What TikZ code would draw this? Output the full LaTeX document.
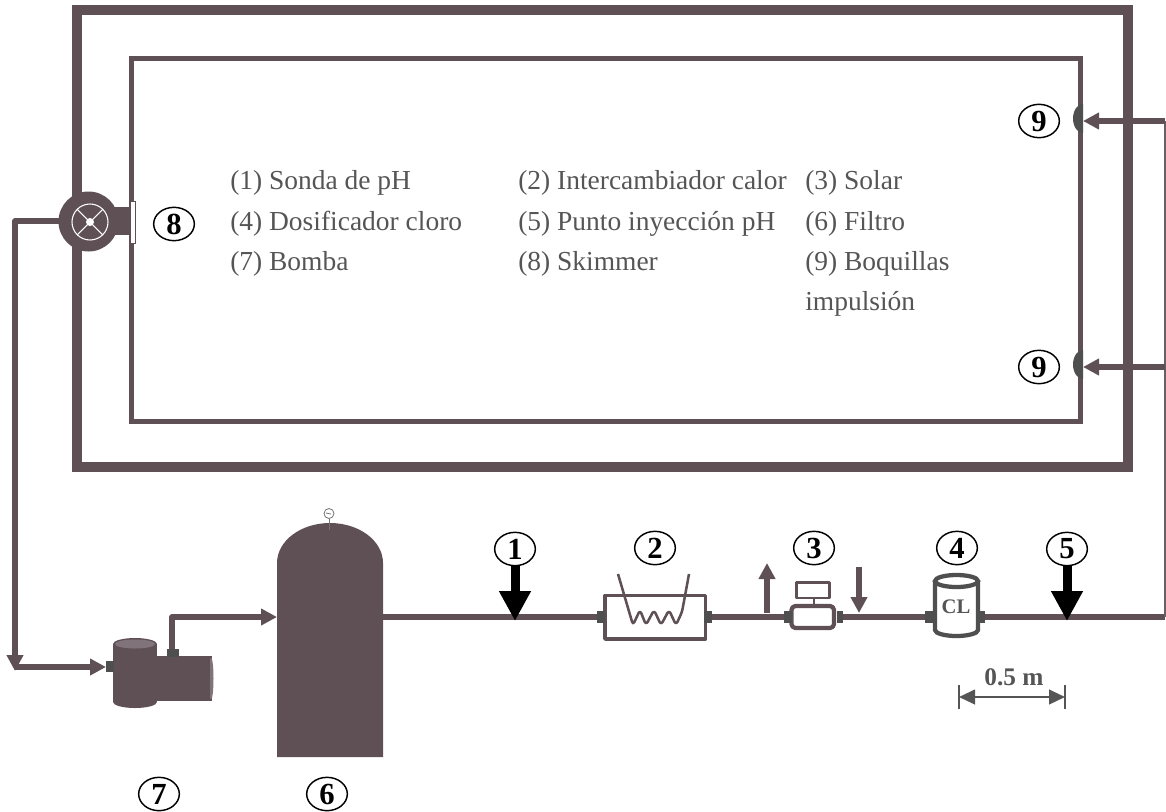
\documentclass[tikz,border=0pt]{standalone}
\usepackage{fontspec}
\setmainfont{Liberation Serif}
\usetikzlibrary{arrows.meta, shapes.geometric}
\definecolor{pipecol}{HTML}{5F5056}
\definecolor{portcol}{HTML}{4F4F4F}
\definecolor{capcol}{HTML}{80737A}
\definecolor{textcol}{HTML}{555555}
\tikzstyle{pipe}=[pipecol, line width=4pt]
\tikzstyle{flow}=[pipecol, line width=4pt, -{Triangle[length=12pt, width=12pt]}]
\tikzstyle{probe}=[black, line width=6.75pt, -{Triangle[length=22.5pt, width=22.5pt]}, shorten <=-0.5pt]
\tikzstyle{marker}=[draw, ellipse, fill=white, line width=1.1pt, minimum width=30.5pt, minimum height=25pt, inner sep=0pt, font=\fontsize{23}{23}\selectfont\bfseries]
\tikzstyle{port}=[fill=portcol, inner sep=0pt, minimum width=6pt, minimum height=8.5pt]
\tikzstyle{legend}=[anchor=west, inner sep=0pt, textcol, font=\fontsize{20.6}{25}\selectfont]
\tikzstyle{device}=[pipecol, line width=2.7pt, line join=round]

\begin{document}
\begin{tikzpicture}[x=0.75pt, y=-0.75pt]
				\useasboundingbox (0,0) rectangle (1166,811);

				% pool
				\draw[pipecol, line width=7.5pt] (77,10) rectangle (1128,467);
				\draw[pipecol, line width=3.75pt] (131,58) rectangle (1080.5,421);

				\coordinate (skim) at (88,221);
				\coordinate (bendA) at (15,221);
				\coordinate (bendB) at (15,667);
				\coordinate (bendC) at (15,671);
				\coordinate (bendD) at (172,617);
				\coordinate (pumpOut) at (172,652);
				\coordinate (filterIn) at (277,617);
				\coordinate (filterOut) at (383,617);
				\coordinate (hxIn) at (601,617);
				\coordinate (hxOut) at (708,617);
				\coordinate (solarIn) at (788,617);
				\coordinate (solarOut) at (840,617);
				\coordinate (clIn) at (929,617);
				\coordinate (clOut) at (982,617);
				\coordinate (tapA) at (515,621);
				\coordinate (tapB) at (1067,621);
				\coordinate (mainEnd) at (1165,617);
				\coordinate (topEnd) at (1165,121);
				\coordinate (lowEnd) at (1165,367);
				\coordinate (topNozzle) at (1083,121);
				\coordinate (lowNozzle) at (1083,367);
				\coordinate (upA) at (767,613);
				\coordinate (upB) at (767,563);
				\coordinate (downA) at (859,567);
				\coordinate (downB) at (859,613);
				\coordinate (dimL) at (959,697);
				\coordinate (dimR) at (1065,697);

				% return from the skimmer to the pump
				\draw[pipe, line join=round] (skim) -- (bendA) -- (15,655);
				\draw[flow] (15,650) -- (bendC);
				\draw[flow] (bendB) -- (106,667);
				\draw[flow, line join=round] (pumpOut) -- (bendD) -- (filterIn);

				% main line
				\draw[pipe] (filterOut) -- (hxIn);
				\draw[pipe] (hxOut) -- (solarIn);
				\draw[pipe] (solarOut) -- (clIn);
				\draw[pipe] (clOut) -- (mainEnd);
				\draw[pipecol!70!gray, line width=1.2pt] (mainEnd) -- (topEnd);
				\draw[flow] (topEnd) -- (topNozzle);
				\draw[flow] (lowEnd) -- (lowNozzle);

				% skimmer and its suction box
				\fill[pipecol] (88.5,221.5) circle [radius=30];
				\fill[pipecol] (100,207) rectangle (129,235);
				\draw[white, line width=0.8pt] (90,222) circle [radius=18];
				\fill[white] (90,222) circle [radius=4];
				\draw[white, line width=0.8pt] (77,209) -- (103,235);
				\draw[white, line width=0.8pt] (103,209) -- (77,235);
				\draw[pipecol, fill=white, line width=0.6pt] (130,201) rectangle (135,243);

				% nozzles
				\fill[portcol] (1083,104) arc [start angle=270, end angle=90, x radius=10, y radius=14.5] -- cycle;
				\fill[portcol] (1083,350) arc [start angle=270, end angle=90, x radius=10, y radius=14.5] -- cycle;

				% pump
				\fill[pipecol] (113,644) rectangle (157,702);
				\fill[pipecol] (135,702) ellipse [x radius=22, y radius=6];
				\fill[pipecol] (135,644) ellipse [x radius=22, y radius=6];
				\fill[capcol] (135,644) ellipse [x radius=20, y radius=4.5];
				\fill[pipecol] (157,656) rectangle (212,701);
				\fill[capcol] (211,678.5) ellipse [x radius=2.5, y radius=21];
				\fill[pipecol] (157,656) rectangle (210,701);
				\node[port] (pumpPortA) at (110,666.5) {};
				\node[port, minimum width=9pt, minimum height=6pt] (pumpPortB) at (173,653) {};

				% filter
				\fill[pipecol] (277,757) -- (277,563) arc [start angle=180, end angle=360, x radius=53, y radius=40] -- (383,757) -- cycle;
				\draw[gray!90!black, line width=0.6pt] (329,530) -- (329,518);
				\draw[gray!90!black, fill=white, line width=0.6pt] (329,513.5) circle [radius=5];
				\draw[gray!90!black, line width=0.6pt] (326,513) -- (331,514);

				% heat exchanger
				\draw[device, fill=white] (605,595.5) rectangle (705.5,639);
				\draw[pipecol, line width=1.9pt, line join=round, rounded corners=2.5pt] (618,574) -- (633,625) -- (640,610) -- (646,625) -- (654,610) -- (661,625) -- (669,610) -- (676,625) -- (682,612) -- (689,574);
				\node[port] (hxPortL) at (601,617) {};
				\node[port] (hxPortR) at (708,617) {};

				% solar unit
				\draw[device, fill=white, line width=3.2pt, rounded corners=3pt] (791.5,606) rectangle (834,628);
				\draw[device, fill=white, line width=2.2pt] (796.5,582.5) rectangle (829.5,598);
				\draw[device, line width=2.2pt] (814,598) -- (814,606);
				\node[port] (solarPortL) at (788,617) {};
				\node[port, minimum width=5pt] (solarPortR) at (840,617) {};
				\draw[flow] (upA) -- (upB);
				\draw[flow] (downA) -- (downB);

				% chlorine dosing
				\draw[portcol, line width=3.2pt, fill=white] (935,581) -- (935,630) arc [start angle=180, end angle=0, x radius=21.5, y radius=6] -- (978,581);
				\draw[portcol, line width=3.2pt, fill=white] (956.5,581) ellipse [x radius=21.5, y radius=6];
				\node[port] (clPortL) at (929,617) {};
				\node[port, minimum width=5pt] (clPortR) at (982,617) {};
				\node[inner sep=0pt, textcol, font=\fontsize{15.5}{15.5}\selectfont\bfseries] (clText) at (956,607) {CL};

				% markers
				\node[marker] (m1) at (515,549) {1};
				\node[marker] (m2) at (655,548) {2};
				\node[marker] (m3) at (814,548) {3};
				\node[marker] (m4) at (957,548) {4};
				\node[marker] (m5) at (1067,549) {5};
				\node[marker] (m6) at (327,794) {6};
				\node[marker] (m7) at (159,794) {7};
				\node[marker] (m8) at (174,224) {8};
				\node[marker] (m9a) at (1039,121) {9};
				\node[marker] (m9b) at (1039,367) {9};
				\draw[probe] (m1) -- (tapA);
				\draw[probe] (m5) -- (tapB);

				% scale
				\draw[textcol, line width=1.2pt] (959,685) -- (959,709);
				\draw[textcol, line width=1.2pt] (1065,685) -- (1065,709);
				\draw[textcol, line width=1.6pt, {Triangle[length=12pt, width=11pt]}-{Triangle[length=12pt, width=11pt]}] (dimL) -- (dimR);
				\node[inner sep=0pt, textcol, font=\fontsize{19}{19}\selectfont\bfseries] (dimText) at (1014,677) {0.5 m};

				% legend
				\node[legend] (l1) at (230,183) {(1) Sonda de pH};
				\node[legend] (l2) at (518,183) {(2) Intercambiador calor};
				\node[legend] (l3) at (805,183) {(3) Solar};
				\node[legend] (l4) at (230,224) {(4) Dosificador cloro};
				\node[legend] (l5) at (518,224) {(5) Punto inyección pH};
				\node[legend] (l6) at (805,224) {(6) Filtro};
				\node[legend] (l7) at (230,264) {(7) Bomba};
				\node[legend] (l8) at (518,264) {(8) Skimmer};
				\node[legend] (l9) at (805,264) {(9) Boquillas};
				\node[legend] (l10) at (805,304) {impulsión};
			\end{tikzpicture}
\end{document}
